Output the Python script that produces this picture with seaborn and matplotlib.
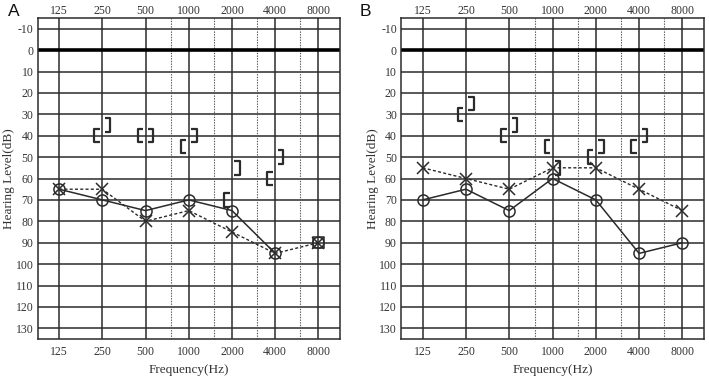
import numpy as np
import pandas as pd
import matplotlib
matplotlib.use("Agg")
import matplotlib.pyplot as plt
import seaborn as sns
from matplotlib.path import Path

# ---------------- data ----------------
freqs = [125, 250, 500, 1000, 2000, 4000, 8000]
freq_labels = ["125", "250", "500", "1000", "2000", "4000", "8000"]
mid_freqs = [750, 1500, 3000, 6000]
db_ticks = list(range(-10, 131, 10))

# Panel A
A_circle = [65, 70, 75, 70, 75, 95, 90]      # solid line (connected 125-4000)
A_circle_connected = 6
A_cross = [65, 65, 80, 75, 85, 95, 90]       # dashed line
A_lbr_freq = [250, 500, 1000, 2000, 4000]
A_lbr = [40, 40, 45, 70, 60]                 # "["
A_rbr_freq = [250, 500, 1000, 2000, 4000]
A_rbr = [35, 40, 40, 55, 50]                 # "]"

# Panel B
B_circle = [70, 65, 75, 60, 70, 95, 90]
B_circle_connected = 7
B_cross = [55, 60, 65, 55, 55, 65, 75]
B_lbr_freq = [250, 500, 1000, 2000, 4000]
B_lbr = [30, 40, 45, 50, 45]
B_rbr_freq = [250, 500, 1000, 2000, 4000]
B_rbr = [25, 35, 55, 45, 40]

# ---------------- style ----------------
sns.set_theme(style="white")
plt.rcParams["font.family"] = ["Liberation Serif", "DejaVu Serif"]

INK = "#2b2b2b"
LEFT_BR = Path([(0.2, 0.5), (-0.2, 0.5), (-0.2, -0.5), (0.2, -0.5)],
               [Path.MOVETO, Path.LINETO, Path.LINETO, Path.LINETO])
RIGHT_BR = Path([(-0.2, 0.5), (0.2, 0.5), (0.2, -0.5), (-0.2, -0.5)],
                [Path.MOVETO, Path.LINETO, Path.LINETO, Path.LINETO])
BR_SHIFT = 2 ** 0.12

fig = plt.figure(figsize=(7.09, 3.76), dpi=100)
axA = fig.add_axes([0.0529, 0.0984, 0.4267, 0.8537])
axB = fig.add_axes([0.5656, 0.0984, 0.4274, 0.8537])


def draw_panel(ax, circle, n_conn, cross, lfreq, lvals, rfreq, rvals):
    ax.set_xscale("log", base=2)
    ax.set_xlim(125 / np.sqrt(2), 8000 * np.sqrt(2))
    ax.set_ylim(135, -15)

    # grid
    for d in db_ticks:
        ax.axhline(d, color=INK, lw=1.1, zorder=1)
    ax.axhline(0, color="black", lw=2.6, zorder=2)
    for f in freqs:
        ax.axvline(f, color=INK, lw=1.1, zorder=1)
    for f in mid_freqs:
        ax.axvline(f, color="#555555", lw=0.8, ls=(0, (1.2, 1.2)), zorder=1)

    # dashed X line
    sns.lineplot(x=freqs, y=cross, ax=ax, color=INK, lw=1.0,
                 ls=(0, (2.2, 1.6)), marker="x", markersize=9,
                 markeredgewidth=1.1, markeredgecolor=INK, zorder=4)
    # solid O line
    sns.lineplot(x=freqs[:n_conn], y=circle[:n_conn], ax=ax, color=INK,
                 lw=1.1, marker="o", markersize=8, markerfacecolor="none",
                 markeredgewidth=1.1, markeredgecolor=INK, zorder=5)
    if n_conn < len(freqs):
        sns.scatterplot(x=freqs[n_conn:], y=circle[n_conn:], ax=ax,
                        marker="o", s=64, facecolor="none",
                        edgecolor=INK, linewidth=1.1, zorder=5)
        sns.scatterplot(x=freqs[n_conn:], y=circle[n_conn:], ax=ax,
                        marker="s", s=60, facecolor="none",
                        edgecolor=INK, linewidth=1.1, zorder=5)

    # bone conduction brackets
    sns.scatterplot(x=[f / BR_SHIFT for f in lfreq], y=lvals, ax=ax,
                    marker=LEFT_BR, s=95, facecolor="none",
                    edgecolor=INK, linewidth=1.6, zorder=6)
    sns.scatterplot(x=[f * BR_SHIFT for f in rfreq], y=rvals, ax=ax,
                    marker=RIGHT_BR, s=95, facecolor="none",
                    edgecolor=INK, linewidth=1.6, zorder=6)

    ax.set_xticks(freqs)
    ax.set_xticklabels(freq_labels)
    ax.xaxis.set_minor_locator(matplotlib.ticker.NullLocator())
    ax.set_yticks(db_ticks)
    ax.set_yticklabels([str(d) for d in db_ticks])
    ax.tick_params(axis="x", which="both", top=False, labeltop=False,
                   bottom=True, labelbottom=True, length=0, pad=5,
                   labelsize=8.5, colors="#333333")
    ax.tick_params(axis="y", length=0, pad=3, labelsize=8.5,
                   colors="#333333")

    top = ax.secondary_xaxis("top")
    top.set_xticks(freqs)
    top.set_xticklabels(freq_labels)
    top.xaxis.set_minor_locator(matplotlib.ticker.NullLocator())
    top.tick_params(axis="x", which="both", length=0, pad=1,
                    labelsize=8.5, colors="#333333")
    top.spines["top"].set_visible(False)

    for s in ax.spines.values():
        s.set_visible(True)
        s.set_color(INK)
        s.set_linewidth(1.1)
    ax.set_xlabel("Frequency(Hz)", fontsize=9.5, color="#333333", labelpad=4)
    ax.set_ylabel("Hearing Level(dB)", fontsize=9.5, color="#333333",
                  labelpad=0)
    ax.grid(False)


draw_panel(axA, A_circle, A_circle_connected, A_cross,
           A_lbr_freq, A_lbr, A_rbr_freq, A_rbr)
draw_panel(axB, B_circle, B_circle_connected, B_cross,
           B_lbr_freq, B_lbr, B_rbr_freq, B_rbr)

fig.text(8 / 709, 1 - 12 / 376, "A", fontsize=12.5, va="center",
         ha="left", family=["Liberation Sans", "DejaVu Sans"], color="#111111")
fig.text(360 / 709, 1 - 12 / 376, "B", fontsize=12.5, va="center",
         ha="left", family=["Liberation Sans", "DejaVu Sans"], color="#111111")

fig.savefig("out.png", dpi=100)
